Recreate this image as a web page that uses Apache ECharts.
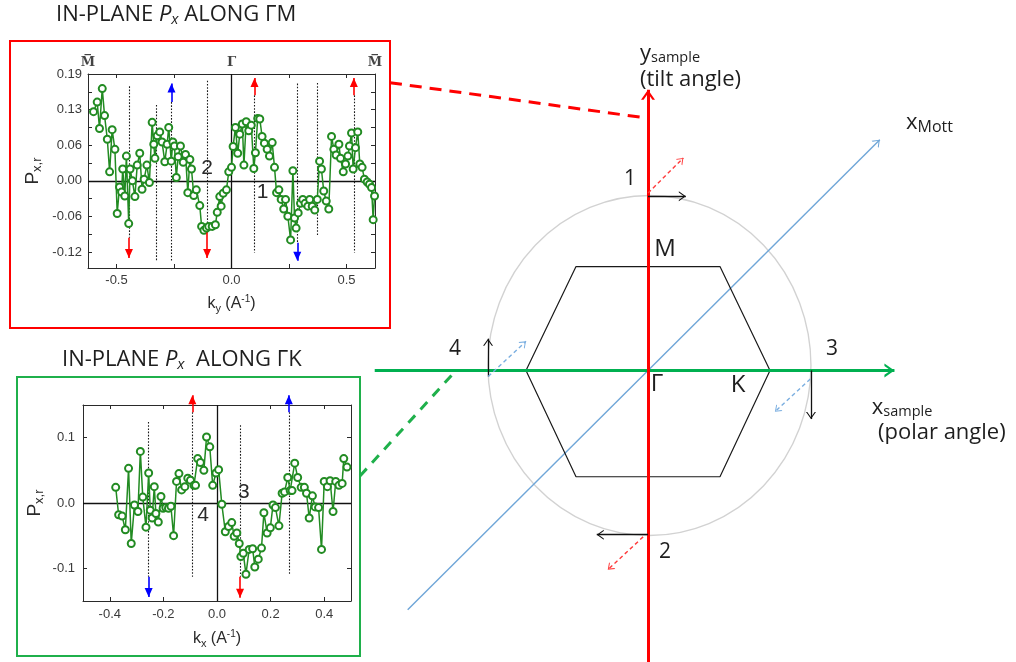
<!DOCTYPE html>
<html>
<head>
<meta charset="utf-8">
<title>In-plane spin polarization along ΓM and ΓK</title>
<script src="https://cdn.jsdelivr.net/npm/echarts@6/dist/echarts.min.js"></script>
<style>
  html, body { margin: 0; padding: 0; background: #fff; }
  #chart { width: 1016px; height: 662px; }
</style>
</head>
<body>
<div id="chart"></div>
<script>
// ---------------- measured spectra: [k (1/Å), P_x,r] ----------------
const scanGM = [
  [-0.600, 0.123], [-0.584, 0.140], [-0.574, 0.093], [-0.562, 0.164], [-0.552, 0.116],
  [-0.540, 0.074], [-0.530, 0.016], [-0.519, 0.091], [-0.507, 0.056], [-0.497, -0.058],
  [-0.487, -0.011], [-0.478, -0.020], [-0.473, 0.021], [-0.464, -0.027], [-0.457, 0.044],
  [-0.447, -0.076], [-0.441, 0.021], [-0.431, 0.000], [-0.420, -0.028], [-0.410, 0.028],
  [-0.399, 0.049], [-0.389, -0.015], [-0.380, 0.003], [-0.368, 0.028], [-0.357, -0.003],
  [-0.345, 0.104], [-0.338, 0.065], [-0.333, 0.040], [-0.323, 0.080], [-0.312, 0.087],
  [-0.302, 0.069], [-0.290, 0.034], [-0.280, 0.065], [-0.273, 0.095], [-0.262, 0.035],
  [-0.255, 0.069], [-0.248, 0.062], [-0.240, 0.006], [-0.232, 0.043], [-0.222, 0.062],
  [-0.210, 0.033], [-0.200, 0.047], [-0.190, -0.021], [-0.181, 0.038], [-0.174, 0.021],
  [-0.164, -0.026], [-0.153, -0.016], [-0.138, -0.044], [-0.130, -0.081], [-0.120, -0.088],
  [-0.109, -0.084], [-0.099, -0.081], [-0.084, -0.081], [-0.070, -0.078], [-0.062, -0.056],
  [-0.051, -0.028], [-0.045, -0.045], [-0.036, -0.022], [-0.022, -0.016], [-0.012, 0.016],
  [0.000, 0.024], [0.007, 0.061], [0.017, 0.095], [0.027, 0.049], [0.036, 0.083],
  [0.047, 0.101], [0.054, 0.028], [0.064, 0.105], [0.075, 0.089], [0.086, 0.099],
  [0.097, 0.022], [0.104, 0.050], [0.114, 0.111], [0.123, 0.110], [0.133, 0.079],
  [0.143, 0.067], [0.155, 0.056], [0.165, 0.044], [0.177, 0.068], [0.187, 0.024],
  [0.196, -0.021], [0.206, -0.016], [0.216, -0.033], [0.227, -0.050], [0.235, -0.033],
  [0.245, -0.063], [0.257, -0.105], [0.267, 0.018], [0.274, -0.066], [0.281, -0.084],
  [0.290, -0.057], [0.300, -0.040], [0.310, -0.033], [0.320, -0.040], [0.332, -0.045],
  [0.340, -0.033], [0.351, -0.045], [0.362, -0.052], [0.373, -0.033], [0.383, 0.035],
  [0.391, 0.021], [0.401, -0.018], [0.412, -0.036], [0.423, -0.050], [0.435, 0.079],
  [0.445, 0.056], [0.455, 0.046], [0.467, 0.065], [0.474, 0.040], [0.486, 0.016],
  [0.496, 0.030], [0.506, 0.044], [0.513, 0.062], [0.522, 0.085], [0.529, 0.021],
  [0.539, 0.059], [0.549, 0.087], [0.558, 0.030], [0.568, 0.024], [0.578, 0.003],
  [0.590, -0.002], [0.600, -0.006], [0.609, -0.012], [0.616, -0.069], [0.622, -0.027]
];

const scanGK = [
  [-0.378, 0.024], [-0.367, -0.018], [-0.354, -0.020], [-0.342, -0.041], [-0.330, 0.053],
  [-0.320, -0.062], [-0.308, -0.003], [-0.295, -0.013], [-0.286, 0.079], [-0.277, 0.009],
  [-0.265, -0.037], [-0.255, 0.046], [-0.249, -0.011], [-0.242, -0.023], [-0.234, 0.025],
  [-0.228, -0.016], [-0.219, -0.029], [-0.209, 0.010], [-0.201, -0.008], [-0.191, -0.007],
  [-0.181, -0.008], [-0.172, -0.005], [-0.162, -0.050], [-0.151, 0.033], [-0.142, 0.045],
  [-0.132, 0.020], [-0.120, 0.025], [-0.109, 0.038], [-0.099, 0.035], [-0.086, 0.027],
  [-0.080, 0.027], [-0.072, 0.068], [-0.062, 0.062], [-0.049, 0.050], [-0.039, 0.101],
  [-0.027, 0.086], [-0.016, 0.027], [-0.004, 0.046], [0.006, 0.051], [0.018, -0.002],
  [0.031, -0.044], [0.043, -0.036], [0.055, -0.030], [0.064, -0.051], [0.074, -0.046],
  [0.083, -0.062], [0.089, -0.082], [0.098, -0.077], [0.108, -0.109], [0.120, -0.071],
  [0.133, -0.070], [0.141, -0.098], [0.154, -0.086], [0.166, -0.069], [0.175, -0.015],
  [0.187, -0.046], [0.199, -0.038], [0.209, -0.003], [0.218, -0.007], [0.231, -0.035],
  [0.243, 0.015], [0.252, 0.017], [0.264, 0.039], [0.273, 0.019], [0.280, 0.019],
  [0.290, 0.061], [0.301, 0.039], [0.314, 0.024], [0.326, 0.024], [0.334, 0.015],
  [0.344, -0.023], [0.356, 0.011], [0.366, -0.006], [0.379, -0.007], [0.390, -0.071],
  [0.400, 0.033], [0.412, 0.025], [0.422, 0.034], [0.433, -0.013], [0.443, 0.033],
  [0.455, 0.027], [0.467, 0.030], [0.473, 0.068], [0.485, 0.055]
];

// ---------------- axes ----------------
const GM_X_RANGE = [-0.624, 0.624];
const GM_Y_RANGE = [-0.155, 0.19];
const GM_X_TICKS = [-0.5, -0.25, 0, 0.25, 0.5];
const GM_X_LABELS = [-0.5, 0, 0.5];
const GM_Y_TICKS = [-0.1267, -0.0633, 0, 0.0633, 0.1267, 0.19];
const GM_Y_LABELS = ['-0.12', '-0.06', '0.00', '0.06', '0.13', '0.19'];
const GM_Y_MINOR = [-0.095, -0.0317, 0.0317, 0.095, 0.1583];
const GM_POINTS = [-0.624, 0, 0.624];
const GM_POINT_NAMES = ['M\u0305', '\u0393', 'M\u0305'];

const GK_X_RANGE = [-0.5, 0.5];
const GK_Y_RANGE = [-0.15, 0.15];
const GK_X_TICKS = [-0.4, -0.2, 0, 0.2, 0.4];
const GK_Y_TICKS = [-0.1, 0, 0.1];
const GK_Y_LABELS = ['-0.1', '0.0', '0.1'];

// ---------------- spin-texture guides: [k, P from, P to] ----------------
const GM_GUIDES = [[-0.446, 0.168, -0.101], [-0.327, 0.135, -0.144], [-0.261, 0.140, -0.144],
  [-0.106, 0.178, -0.092], [0.100, 0.152, -0.128], [0.286, 0.173, -0.110],
  [0.373, 0.174, -0.099], [0.532, 0.152, -0.128]];
// arrows: [k, P base, P tip, colour key]
const GM_ARROWS = [[-0.446, -0.101, -0.137, 'r'], [-0.261, 0.140, 0.173, 'b'],
  [-0.106, -0.092, -0.137, 'r'], [0.100, 0.152, 0.183, 'r'],
  [0.286, -0.110, -0.142, 'b'], [0.532, 0.152, 0.183, 'r']];
const GM_TAGS = [[-0.106, 0.022, '2'], [0.135, -0.021, '1']];

const GK_GUIDES = [[-0.255, 0.124, -0.113], [-0.092, 0.139, -0.113],
  [0.086, 0.119, -0.113], [0.268, 0.139, -0.110]];
const GK_ARROWS = [[-0.255, -0.113, -0.144, 'b'], [-0.092, 0.139, 0.165, 'r'],
  [0.086, -0.113, -0.145, 'r'], [0.268, 0.139, 0.165, 'b']];
const GK_TAGS = [[0.100, 0.017, '3'], [-0.052, -0.018, '4']];

// ---------------- Brillouin-zone sketch (units of ΓK) ----------------
const BZ_HEX = [[-1, 0], [-0.59, 0.855], [0.59, 0.855], [1, 0], [0.59, -0.875], [-0.59, -0.875], [-1, 0]];
const SCAN_CIRCLE = [[0.012, 0.041]];
const Y_SAMPLE = [[0, -2.4, 0, 2.31]];
const X_SAMPLE = [[-2.24, 0, 2.02, 0]];
const X_MOTT = [[-1.97, -1.97, 1.90, 1.90]];
const SPIN_BLACK = [[0, 1.434, 0.31, 1.434], [0, -1.352, -0.42, -1.352],
  [1.336, 0, 1.336, -0.40], [-1.311, -0.05, -1.311, 0.262]];
const SPIN_RED = [[0.0, 1.46, 0.29, 1.75], [-0.04, -1.37, -0.33, -1.64]];
const SPIN_BLUE = [[1.33, -0.07, 1.04, -0.34], [-1.31, -0.05, -1.0, 0.24]];
const LINK_GM = [[-2.115, 2.369, -0.041, 2.082]];
const LINK_GK = [[-2.361, -0.869, -1.574, 0]];
const BZ_POINTS = [[0.139, 1.0, 'M'], [0.074, -0.115, '\u0393'], [0.738, -0.123, 'K']];
const BZ_SCAN_IDS = [[-0.148, 1.574, '1'], [0.139, -1.492, '2'], [1.508, 0.18, '3'], [-1.582, 0.18, '4']];
const BZ_CAPTIONS = [[-0.066, 2.607, '{b|y}{s|sample}'], [-0.066, 2.393, '(tilt angle)'],
  [2.115, 2.04, '{b|x}{m|Mott}'], [1.834, -0.303, '{b|x}{s|sample}'], [1.885, -0.516, '(polar angle)']];

// ---------------- styling ----------------
const SANS = '"Liberation Sans", Arial, sans-serif';
const HUMAN = '"Open Sans", "Noto Sans", sans-serif';
const SERIF = '"DejaVu Serif", serif';
const INK = '#1e1e1e';
const RED = '#ff0000';
const BLUE = '#0000ff';
const GREEN_DATA = '#228b22';
const GREEN_FRAME = '#1fb04b';
const MOTT_BLUE = '#6fa6d8';

// arrowhead pointing up, tip at the symbol centre (square box kept with two specks)
function head(kind, w, l, t) {
  const S = Math.max(w, l);
  let p;
  if (kind === 'open') {
    const k = t * l / w;
    p = `M0,0 L${w},${l} L${w - t},${l} L0,${k} L${t - w},${l} L${-w},${l} Z`;
  } else {
    p = `M0,0 L${w},${l} L${-w},${l} Z`;
  }
  p += ` M${-S},${-S} L${-S + 0.01},${-S} L${-S},${-S + 0.01} Z`;
  p += ` M${S},${S} L${S - 0.01},${S} L${S},${S - 0.01} Z`;
  return { symbol: 'path://' + p, size: 2 * S };
}

function segments(axisIdx, segs, color, width, type, arrowHead, z) {
  return {
    type: 'lines', coordinateSystem: 'cartesian2d',
    xAxisIndex: axisIdx, yAxisIndex: axisIdx, polyline: false, clip: false,
    symbol: arrowHead ? ['none', arrowHead.symbol] : 'none',
    symbolSize: arrowHead ? [0, arrowHead.size] : 0,
    lineStyle: { color: color, width: width, type: type, opacity: 1, curveness: 0 },
    data: segs.map(s => ({ coords: [[s[0], s[1]], [s[2], s[3]]] })),
    silent: true, z: z || 3
  };
}

function tags(axisIdx, items, labelStyle) {
  return {
    type: 'scatter', xAxisIndex: axisIdx, yAxisIndex: axisIdx,
    symbolSize: 0, clip: false, silent: true, z: 6,
    itemStyle: { opacity: 1 },
    data: items.map(t => ({ value: [t[0], t[1]], name: t[2] })),
    label: Object.assign({
      show: true, position: 'inside', formatter: p => p.name, color: INK, opacity: 1
    }, labelStyle)
  };
}

function frameAxis(gridIndex, position, range, extra) {
  return Object.assign({
    gridIndex: gridIndex, type: 'value', position: position,
    min: range[0], max: range[1],
    axisLine: { show: true, onZero: false, lineStyle: { color: '#2a2a2a', width: 1 } },
    axisTick: { show: false },
    axisLabel: { show: false },
    splitLine: { show: false }
  }, extra);
}

function tickStyle(values) {
  return { show: true, inside: true, length: 4, customValues: values, lineStyle: { color: '#2a2a2a', width: 1 } };
}

const tickFont = { fontSize: 13, fontFamily: SANS, color: '#3a3a3a' };
const nameFont = {
  fontSize: 16, fontFamily: SANS, color: '#2a2a2a',
  rich: {
    t: { fontSize: 16, fontFamily: SANS, color: '#2a2a2a' },
    s: { fontSize: 11, fontFamily: SANS, color: '#2a2a2a', padding: [9, 0, 0, 0] },
    p: { fontSize: 10, fontFamily: SANS, color: '#2a2a2a', padding: [0, 0, 9, 0] }
  }
};
const yNameFont = {
  fontSize: 18, fontFamily: SANS, color: '#2a2a2a',
  rich: {
    t: { fontSize: 19, fontFamily: SANS, color: '#2a2a2a' },
    s: { fontSize: 13, fontFamily: SANS, color: '#2a2a2a', padding: [10, 0, 0, 0] }
  }
};
const titleRich = {
  n: { fontSize: 22, fontFamily: HUMAN, fontWeight: 'normal', color: INK },
  i: { fontSize: 22, fontFamily: HUMAN, fontWeight: 'normal', fontStyle: 'italic', color: INK },
  s: { fontSize: 15, fontFamily: HUMAN, fontWeight: 'normal', fontStyle: 'italic', color: INK, padding: [10, 0, 0, 0] }
};

const labelFor = (ticks, labels) => v => {
  const i = ticks.findIndex(t => Math.abs(t - v) < 1e-6);
  return i < 0 ? '' : labels[i];
};

const headTri = head('solid', 4, 9, 0);
const headBlack = head('open', 5, 7, 1.3);
const headAxis = head('open', 7, 10, 2.6);
const headMott = head('open', 5, 6.5, 1.3);
const headSmall = head('open', 4.5, 6, 1.2);

function spinArrows(axisIdx, list) {
  const out = [];
  [['r', RED], ['b', BLUE]].forEach(([key, color]) => {
    const segs = list.filter(a => a[3] === key).map(a => [a[0], a[1], a[0], a[2]]);
    out.push(segments(axisIdx, segs, color, 1.6, 'solid', headTri, 5));
  });
  return out;
}

const guides = (axisIdx, list) =>
  segments(axisIdx, list.map(g => [g[0], g[1], g[0], g[2]]), '#1a1a1a', 1.1, [1.6, 1.6], null, 2);

const option = {
  animation: false,
  backgroundColor: '#fff',
  title: [
    {
      left: 56, top: 2, padding: 0,
      text: '{n|IN-PLANE }{i|P}{s|x}{n| ALONG \u0393M}',
      textStyle: { fontWeight: 'normal', rich: titleRich }
    },
    {
      left: 62, top: 347, padding: 0,
      text: '{n|IN-PLANE }{i|P}{s|x}{n|  ALONG \u0393K}',
      textStyle: { fontWeight: 'normal', rich: titleRich }
    }
  ],
  graphic: [
    { type: 'rect', shape: { x: 10, y: 41, width: 380, height: 287 }, style: { fill: 'none', stroke: RED, lineWidth: 2 }, z: 0 },
    { type: 'rect', shape: { x: 17, y: 377, width: 343, height: 279 }, style: { fill: 'none', stroke: GREEN_FRAME, lineWidth: 2 }, z: 0 }
  ],
  grid: [
    { left: 88, top: 74, width: 287, height: 194 },
    { left: 83, top: 405, width: 268, height: 196 },
    { left: 343, top: 18.2, width: 671, height: 646.6 }
  ],
  xAxis: [
    frameAxis(0, 'bottom', GM_X_RANGE, {
      axisTick: tickStyle(GM_X_TICKS),
      axisLabel: Object.assign({ show: true, customValues: GM_X_LABELS, margin: 6, formatter: v => v.toFixed(1) }, tickFont),
      name: '{t|k}{s|y}{t| (A}{p|-1}{t|)}', nameLocation: 'middle', nameGap: 26, nameTextStyle: nameFont
    }),
    frameAxis(0, 'top', GM_X_RANGE, {
      axisTick: tickStyle(GM_X_TICKS),
      axisLabel: {
        show: true, customValues: GM_POINTS, margin: 5, showMinLabel: true, showMaxLabel: true,
        formatter: labelFor(GM_POINTS, GM_POINT_NAMES),
        fontSize: 13, fontFamily: SERIF, fontWeight: 'bold', color: '#444'
      }
    }),
    frameAxis(1, 'bottom', GK_X_RANGE, {
      axisTick: tickStyle(GK_X_TICKS),
      axisLabel: Object.assign({ show: true, customValues: GK_X_TICKS, margin: 7, formatter: v => v.toFixed(1) }, tickFont),
      name: '{t|k}{s|x}{t| (A}{p|-1}{t|)}', nameLocation: 'middle', nameGap: 28, nameTextStyle: nameFont
    }),
    frameAxis(1, 'top', GK_X_RANGE, { axisTick: tickStyle(GK_X_TICKS) }),
    { gridIndex: 2, type: 'value', min: -2.5, max: 3.0, show: false }
  ],
  yAxis: [
    frameAxis(0, 'left', GM_Y_RANGE, {
      axisTick: tickStyle(GM_Y_TICKS.concat(GM_Y_MINOR)),
      axisLabel: Object.assign({ show: true, customValues: GM_Y_TICKS, margin: 6, formatter: labelFor(GM_Y_TICKS, GM_Y_LABELS) }, tickFont),
      name: '{t|P}{s|x,r}', nameLocation: 'middle', nameGap: 44, nameRotate: 90, nameTextStyle: yNameFont
    }),
    frameAxis(0, 'right', GM_Y_RANGE, { axisTick: tickStyle(GM_Y_TICKS.concat(GM_Y_MINOR)) }),
    frameAxis(1, 'left', GK_Y_RANGE, {
      axisTick: tickStyle(GK_Y_TICKS),
      axisLabel: Object.assign({ show: true, customValues: GK_Y_TICKS, margin: 8, formatter: labelFor(GK_Y_TICKS, GK_Y_LABELS) }, tickFont),
      name: '{t|P}{s|x,r}', nameLocation: 'middle', nameGap: 37, nameRotate: 90, nameTextStyle: yNameFont
    }),
    frameAxis(1, 'right', GK_Y_RANGE, { axisTick: tickStyle(GK_Y_TICKS) }),
    { gridIndex: 2, type: 'value', min: -2.4, max: 2.9, show: false }
  ],
  series: [
    // zero lines of the two spectra
    segments(0, [[GM_X_RANGE[0], 0, GM_X_RANGE[1], 0], [0, GM_Y_RANGE[0], 0, GM_Y_RANGE[1]]], '#111', 1.3, 'solid', null, 2),
    segments(2, [[GK_X_RANGE[0], 0, GK_X_RANGE[1], 0], [0, GK_Y_RANGE[0], 0, GK_Y_RANGE[1]]], '#111', 1.3, 'solid', null, 2),
    guides(0, GM_GUIDES),
    guides(2, GK_GUIDES),
    ...spinArrows(0, GM_ARROWS),
    ...spinArrows(2, GK_ARROWS),
    {
      type: 'line', xAxisIndex: 0, yAxisIndex: 0, data: scanGM,
      symbol: 'emptyCircle', symbolSize: 7, z: 4,
      lineStyle: { color: GREEN_DATA, width: 1.5 },
      itemStyle: { color: GREEN_DATA, borderWidth: 1.2 }
    },
    {
      type: 'line', xAxisIndex: 2, yAxisIndex: 2, data: scanGK,
      symbol: 'emptyCircle', symbolSize: 7, z: 4,
      lineStyle: { color: GREEN_DATA, width: 1.5 },
      itemStyle: { color: GREEN_DATA, borderWidth: 1.2 }
    },
    tags(0, GM_TAGS, { fontSize: 21, fontFamily: SANS, color: '#2a2a2a' }),
    tags(2, GK_TAGS, { fontSize: 21, fontFamily: SANS, color: '#2a2a2a' }),

    // Brillouin zone sketch
    {
      type: 'scatter', xAxisIndex: 4, yAxisIndex: 4, data: SCAN_CIRCLE,
      symbol: 'circle', symbolSize: [323, 340], silent: true, z: 1, clip: false,
      itemStyle: { color: 'rgba(0,0,0,0)', borderColor: '#d2d2d2', borderWidth: 1.4, opacity: 1 }
    },
    {
      type: 'line', xAxisIndex: 4, yAxisIndex: 4, data: BZ_HEX,
      showSymbol: false, symbol: 'none', silent: true, z: 2,
      lineStyle: { color: '#1a1a1a', width: 1.2 }
    },
    segments(4, X_MOTT, MOTT_BLUE, 1.4, 'solid', headMott, 2),
    segments(4, X_SAMPLE, '#00b050', 3, 'solid', headAxis, 3),
    segments(4, Y_SAMPLE, RED, 3, 'solid', headAxis, 4),
    segments(4, LINK_GM, RED, 3, [12, 8], null, 3),
    segments(4, LINK_GK, '#1fb04b', 3, [10, 8], null, 3),
    segments(4, SPIN_BLACK, '#111', 1.3, 'solid', headBlack, 5),
    segments(4, SPIN_RED, '#ff3b3b', 1.4, [4, 3], headSmall, 5),
    segments(4, SPIN_BLUE, '#7aaee0', 1.4, [4, 3], headSmall, 5),
    tags(4, BZ_POINTS, { fontSize: 24, fontFamily: HUMAN }),
    tags(4, BZ_SCAN_IDS, { fontSize: 21, fontFamily: HUMAN }),
    tags(4, BZ_CAPTIONS, {
      align: 'left', fontSize: 22, fontFamily: HUMAN,
      rich: {
        b: { fontSize: 22, fontFamily: HUMAN, color: INK },
        s: { fontSize: 14.5, fontFamily: HUMAN, color: INK, padding: [9, 0, 0, 0] },
        m: { fontSize: 16, fontFamily: HUMAN, color: INK, padding: [9, 0, 0, 0] }
      }
    })
  ]
};

const chart = echarts.init(document.getElementById('chart'));
chart.setOption(option);
</script>
</body>
</html>
